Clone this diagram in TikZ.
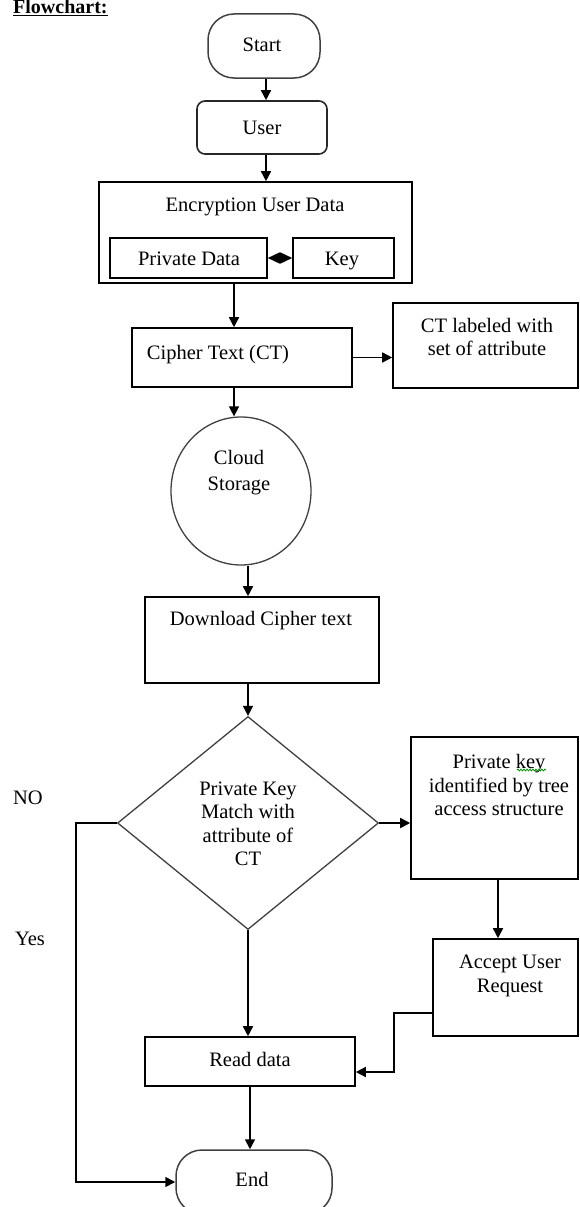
\documentclass[tikz,border=0pt]{standalone}
\usepackage{fontspec}
\setmainfont{Liberation Serif}
\usetikzlibrary{arrows.meta,shapes.geometric,calc,decorations.pathmorphing}
\begin{document}
\begin{tikzpicture}[x=1pt,y=-1pt,
  box/.style={draw=black,line width=1.6pt,rectangle,inner sep=0pt},
  term/.style={draw=black!75,line width=1.5pt,rectangle,rounded corners=26pt,inner sep=0pt},
  thin/.style={draw=black!75,line width=1.3pt,inner sep=0pt},
  txt/.style={font=\fontsize{20.5}{23.5}\selectfont,align=center,inner sep=0pt,text=black},
  arr/.style={line width=1.6pt,-{Triangle[length=10pt,width=10pt]}},
  dbl/.style={line width=1.6pt,{Triangle[length=12pt,width=11pt]}-{Triangle[length=12pt,width=11pt]}}
]
\useasboundingbox (0,0) rectangle (579,1207);

% title
\node[anchor=base west,inner sep=0pt,font=\fontsize{20}{23.5}\selectfont\bfseries] (title) at (13,14) {\underline{Flowchart:}};

% shapes
\node[term,minimum width=112pt,minimum height=64pt] (start) at (264,46) {};
\node[txt] (tstart) at (262,45) {Start};

\node[box,draw=black!85,rounded corners=8pt,minimum width=130pt,minimum height=53pt] (user) at (262,127.5) {};
\node[txt] (tuser) at (262,128) {User};

\node[box,minimum width=313pt,minimum height=101pt] (enc) at (255.5,232.5) {};
\node[txt] (tenc) at (255,207) {Encryption User Data};
\node[box,minimum width=157pt,minimum height=40pt] (pd) at (188.5,258) {};
\node[txt] (tpd) at (189,259) {Private Data};
\node[box,minimum width=101pt,minimum height=40pt] (key) at (343.5,258) {};
\node[txt] (tkey) at (342,261) {Key};

\node[box,minimum width=220pt,minimum height=59pt] (cipher) at (242,357.5) {};
\node[txt] (tcipher) at (218,355) {Cipher Text (CT)};

\node[box,minimum width=185pt,minimum height=85pt] (ctl) at (485.5,345.5) {};
\node[txt] (tctl) at (487,337) {CT labeled with\\set of attribute};

\node[thin,ellipse,minimum width=140pt,minimum height=148pt] (cloud) at (241,491) {};
\node[txt,font=\fontsize{20.5}{26}\selectfont] (tcloud) at (239,473) {Cloud\\Storage};

\node[box,minimum width=234pt,minimum height=86pt] (dl) at (262,640) {};
\node[txt] (tdl) at (261,621) {Download Cipher text};

\node[thin,diamond,minimum width=261pt,minimum height=213pt] (dia) at (248,823) {};
\node[txt] (tdia) at (248,824) {Private Key\\Match with\\attribute of\\CT};

\node[txt] (no) at (28,798) {NO};
\node[txt] (yes) at (30,939) {Yes};

\node[box,minimum width=167pt,minimum height=142pt] (pk) at (494.5,808) {};
\node[txt] (tpk) at (499,785) {Private key\\identified by tree\\access structure};
\draw[green!55!black,line width=0.8pt,decorate,decoration={snake,amplitude=0.9pt,segment length=3pt}] (517,770) -- (546,770);

\node[box,minimum width=145pt,minimum height=97pt] (acc) at (505.5,987.5) {};
\node[txt] (tacc) at (510,976) {Accept User\\Request};

\node[box,minimum width=210pt,minimum height=49pt] (read) at (250,1061.5) {};
\node[txt] (tread) at (250,1059) {Read data};

\node[term,minimum width=156pt,minimum height=64pt] (end) at (254,1182) {};
\node[txt] (tend) at (252,1179) {End};

% helper coordinates
\coordinate (xa) at (234,0);
\coordinate (xb) at (248,0);
\coordinate (xc) at (76,0);
\coordinate (xd) at (498,0);
\coordinate (xe) at (394,0);
\coordinate (xf) at (266,0);
\coordinate (accout) at ($(acc.west)+(0,25.5)$);
\coordinate (readin) at ($(read.east)+(0,10.5)$);

% connectors
\draw[arr] (xf |- start.south) -- (xf |- user.north);
\draw[arr] (xf |- user.south) -- (xf |- enc.north);
\draw[dbl] (pd.east) -- (key.west);
\draw[arr] (xa |- enc.south) -- (xa |- cipher.north);
\draw[arr] (cipher.east) -- (cipher.east -| ctl.west);
\draw[arr] (xa |- cipher.south) -- (xa |- cloud.north);
\draw[arr] (xb |- cloud.south) -- (xb |- dl.north);
\draw[arr] (xb |- dl.south) -- (dia.north);
\draw[arr] (dia.east) -- (dia.east -| pk.west);
\draw[arr] (xd |- pk.south) -- (xd |- acc.north);
\draw[arr] (accout) -- (xe |- accout) -- (xe |- readin) -- (readin);
\draw[arr] (dia.south) -- (dia.south |- read.north);
\draw[arr] (read.south) -- (read.south |- end.north);
\draw[arr] (dia.west) -- (xc |- dia.west) -- (xc |- end.west) -- (end.west);
\end{tikzpicture}
\end{document}
